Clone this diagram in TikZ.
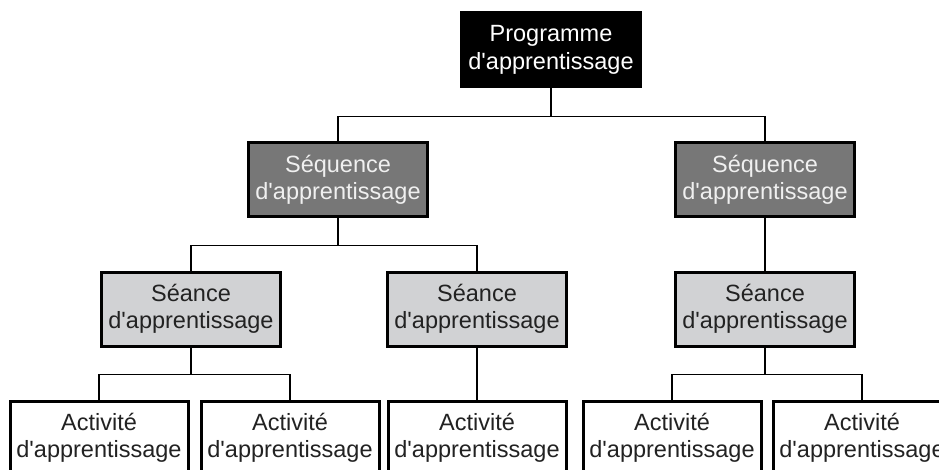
\documentclass[tikz,border=0pt]{standalone}
\usepackage{fontspec}
\newfontfamily\boxfont{Liberation Sans}
\usepackage{tikz}
\usetikzlibrary{positioning}
\usepackage{xcolor}
\definecolor{seqgray}{HTML}{777777}
\definecolor{seagray}{HTML}{D1D2D4}
\definecolor{txtdark}{HTML}{222222}
\tikzset{
	level/.style={%
		draw, line width=3pt,
		minimum width=#1,
		minimum height=74pt,
		inner sep=0pt, align=center,
		font=\boxfont\fontsize{23.5}{27.5}\selectfont
	},
	level/.default=179pt,
	programme/.style={level, fill=black, text=white},
	sequence/.style={level, fill=seqgray, text=white!94!black},
	seance/.style={level, fill=seagray, text=txtdark},
	activite/.style={level=178pt, fill=white, text=txtdark},
	link/.style={line width=1.5pt}
}
\begin{document}
\begin{tikzpicture}[x=1pt,y=1pt]
		% page frame
		\clip (0,0) rectangle (939,-470);
		\useasboundingbox (0,0) rectangle (939,-470);
		
		% top and sequences
		\node[programme] (prog) at (551,-50) {Programme\\d'apprentissage};
		\node[sequence] (seqA) at (338,-180) {Séquence\\d'apprentissage};
		\node[sequence] (seqB) at (765,-180) {Séquence\\d'apprentissage};
		
		% seances
		\node[seance] (seaA) at (191,-309) {Séance\\d'apprentissage};
		\node[seance] (seaB) at (477,-309) {Séance\\d'apprentissage};
		\node[seance] (seaC) at (765,-309) {Séance\\d'apprentissage};
		
		% activites
		\node[activite] (actA) at (99,-438) {Activité\\d'apprentissage};
		\node[activite] (actB) at (290,-438) {Activité\\d'apprentissage};
		\node[activite] (actC) at (477,-438) {Activité\\d'apprentissage};
		\node[activite] (actD) at (672,-438) {Activité\\d'apprentissage};
		\node[activite] (actE) at (862,-438) {Activité\\d'apprentissage};
		
		%lines between boxes
		\draw[link] (prog.south) -- ++(0,-28) -| (seqA.north);
		\draw[link] (prog.south) -- ++(0,-28) -| (seqB.north);
		
		\draw[link] (seqA.south) -- ++(0,-27) -| (seaA.north);
		\draw[link] (seqA.south) -- ++(0,-27) -| (seaB.north);
		\draw[link] (seqB.south) -- (seaC.north);
		
		\draw[link] (seaA.south) -- ++(0,-27) -| (actA.north);
		\draw[link] (seaA.south) -- ++(0,-27) -| (actB.north);
		\draw[link] (seaB.south) -- (actC.north);
		\draw[link] (seaC.south) -- ++(0,-27) -| (actD.north);
		\draw[link] (seaC.south) -- ++(0,-27) -| (actE.north);
		
\end{tikzpicture}
\end{document}
